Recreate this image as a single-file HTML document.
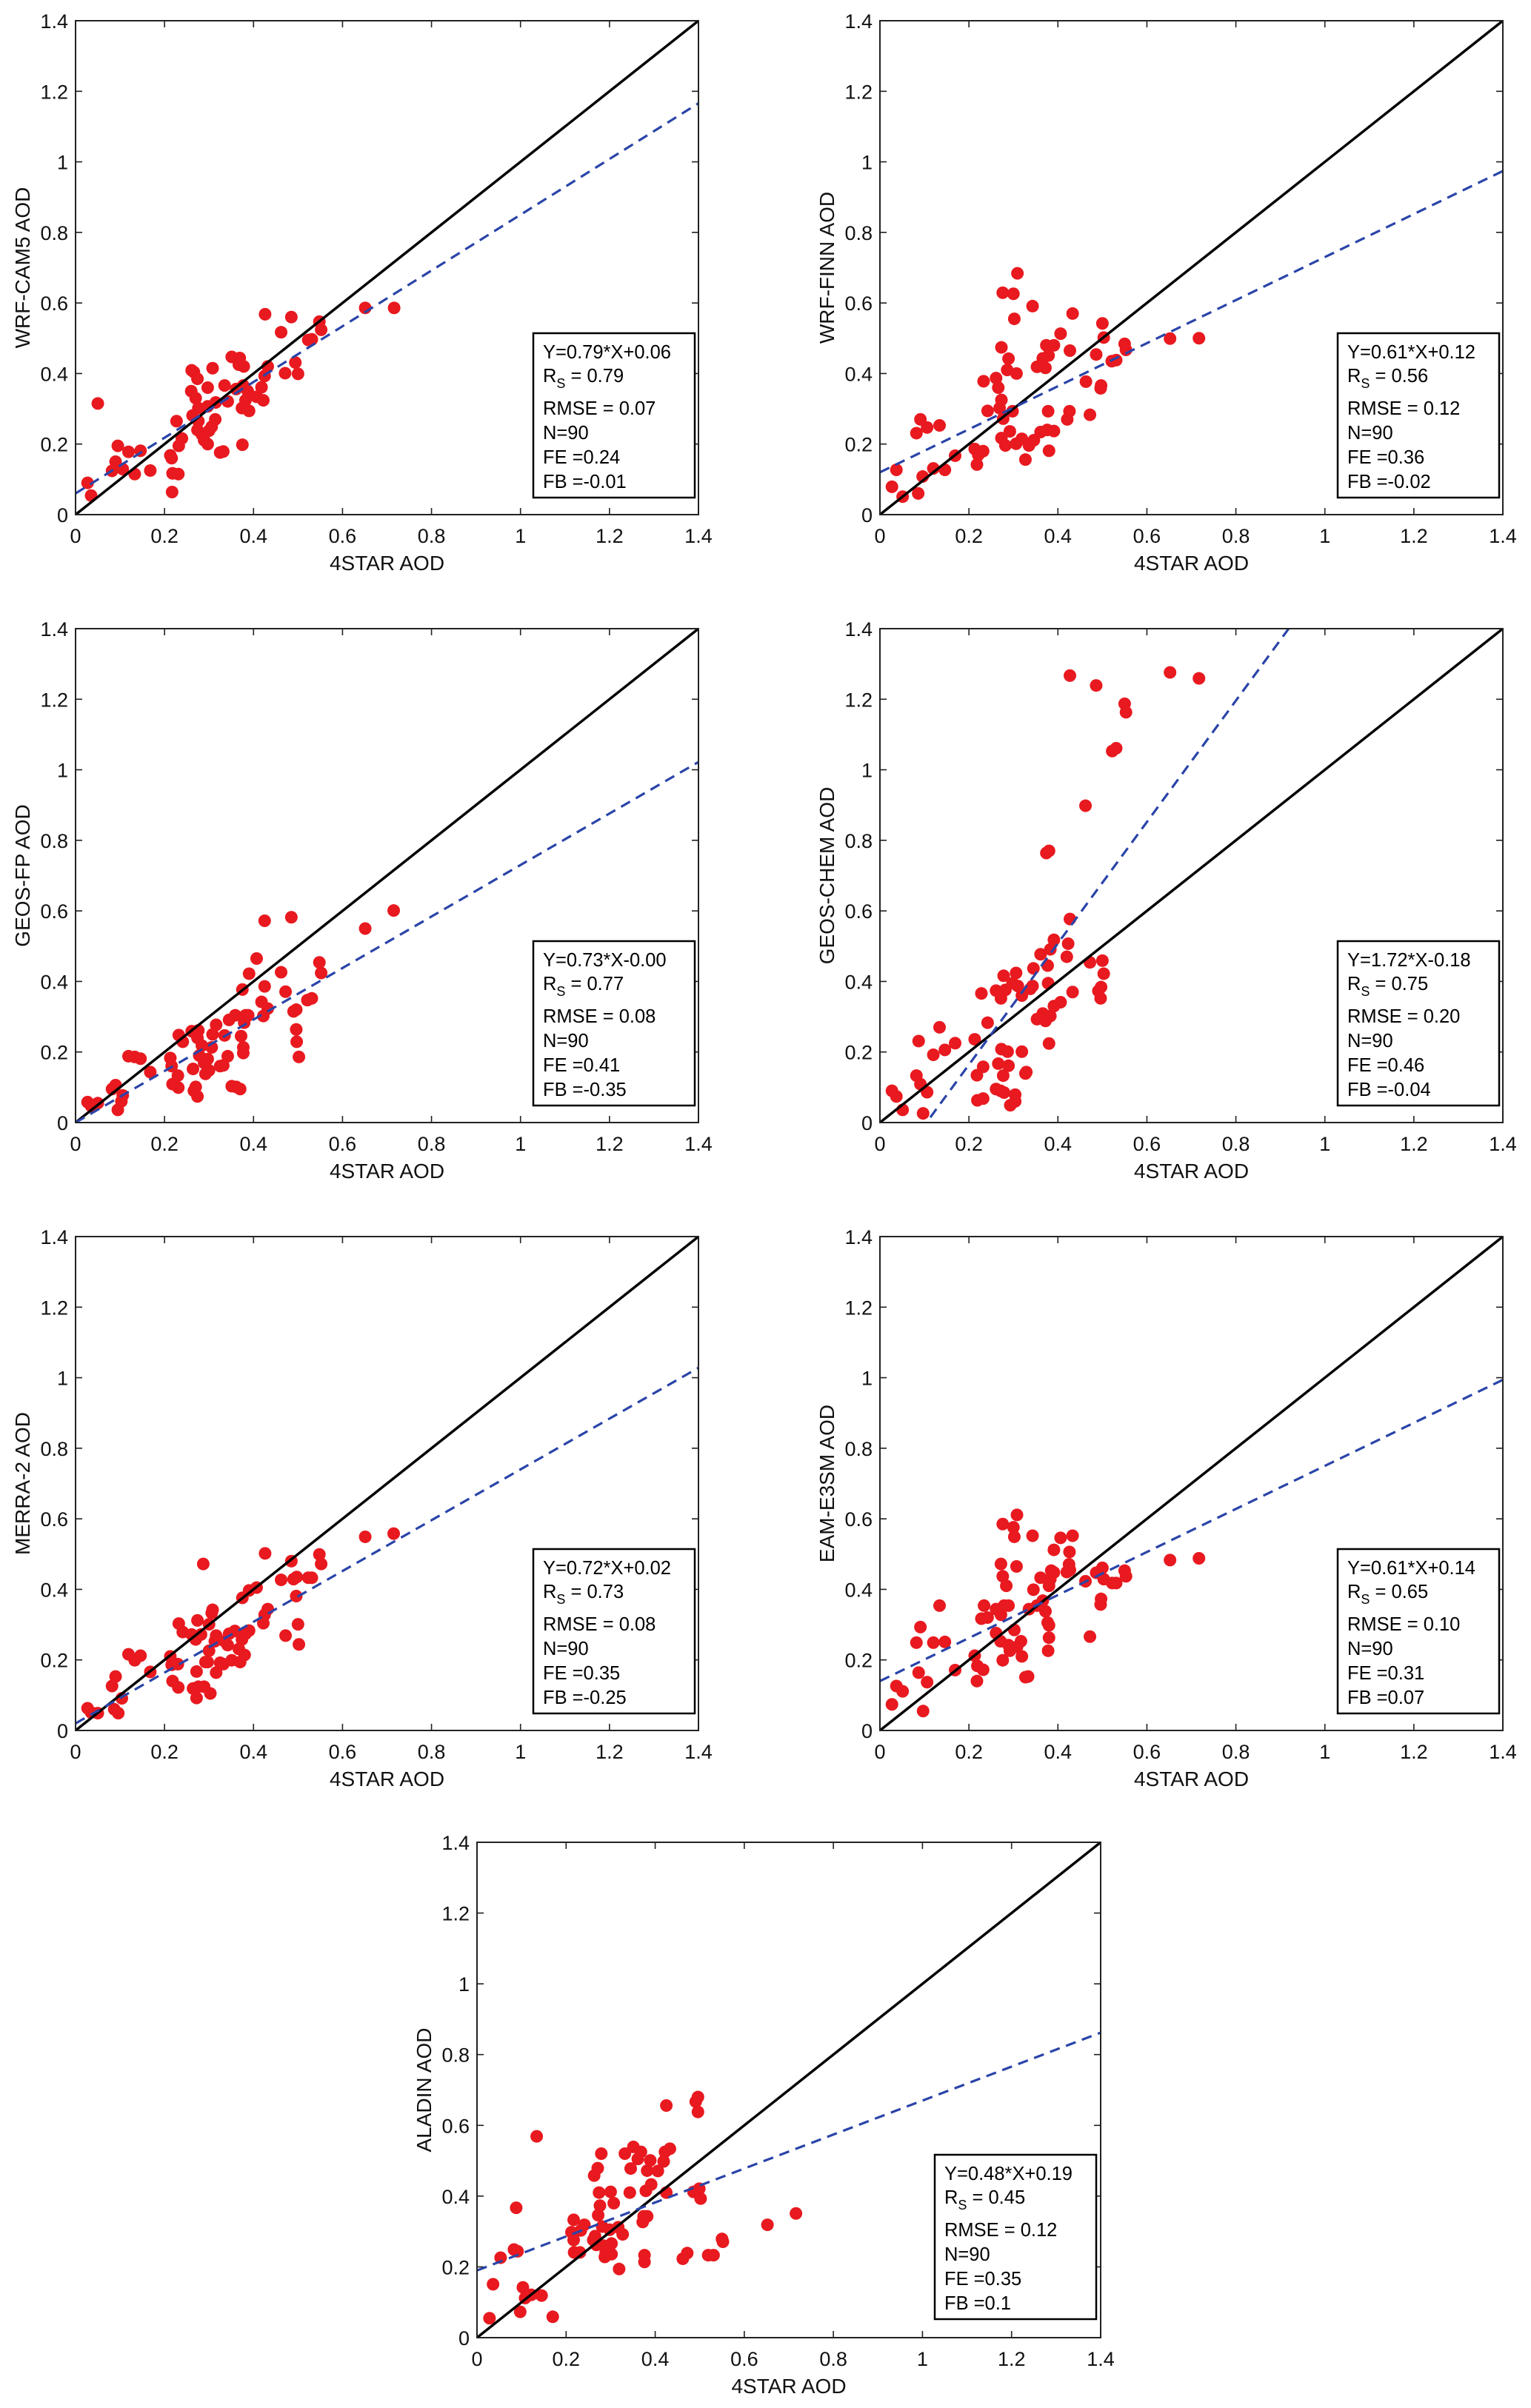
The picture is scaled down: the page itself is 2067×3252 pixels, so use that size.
<!DOCTYPE html>
<html><head><meta charset="utf-8"><style>
html,body{margin:0;padding:0;background:#fff;}
svg{display:block;font-family:"Liberation Sans",Arial,sans-serif;}
</style></head><body>
<svg id="fig" width="2067" height="3252" viewBox="0 0 2067 3252" xmlns="http://www.w3.org/2000/svg"></svg>
<script>
const xs1=[.027,.035,.05,.095,.09,.082,.106,.119,.133,.146,.168,.213,.216,.217,.218,.231,.227,.232,.239,.261,.266,.274,.26,.27,.276,.263,.276,.274,.284,.289,.297,.3,.306,.297,.297,.308,.315,.314,.325,.332,.335,.342,.351,.361,.369,.367,.378,.374,.382,.377,.387,.39,.375,.407,.418,.422,.425,.432,.426,.462,.471,.485,.494,.5,.523,.531,.548,.552,.651,.716];
const ys1=[.09,.054,.315,.195,.15,.124,.129,.178,.115,.181,.125,.168,.16,.064,.117,.115,.265,.195,.216,.409,.404,.385,.35,.33,.302,.281,.265,.24,.227,.211,.2,.238,.249,.36,.307,.415,.318,.27,.176,.179,.366,.321,.447,.356,.444,.425,.42,.302,.324,.366,.35,.294,.198,.334,.361,.324,.393,.42,.568,.517,.401,.56,.431,.399,.495,.497,.547,.524,.586,.586];
const xs2=[.027,.037,.051,.086,.082,.091,.106,.096,.12,.134,.146,.169,.213,.218,.221,.232,.233,.242,.261,.266,.273,.273,.269,.277,.276,.286,.289,.298,.3,.302,.309,.307,.273,.282,.292,.306,.319,.327,.335,.343,.346,.353,.361,.366,.372,.374,.379,.378,.376,.38,.391,.391,.406,.421,.426,.427,.433,.463,.472,.486,.496,.497,.5,.503,.521,.531,.55,.553,.652,.717];
const ys2=[.079,.127,.051,.06,.231,.27,.247,.108,.131,.253,.127,.167,.186,.142,.169,.18,.378,.294,.387,.36,.474,.325,.302,.272,.629,.41,.442,.293,.626,.555,.684,.4,.217,.196,.236,.201,.215,.156,.196,.591,.211,.419,.234,.443,.416,.48,.451,.293,.24,.181,.237,.48,.513,.27,.293,.465,.57,.377,.283,.454,.358,.366,.542,.502,.435,.438,.484,.467,.499,.5];
const xs3=[.027,.035,.05,.082,.09,.095,.103,.106,.119,.133,.146,.168,.213,.216,.218,.23,.231,.232,.241,.261,.264,.266,.27,.274,.276,.274,.278,.284,.289,.292,.297,.3,.306,.308,.316,.325,.332,.335,.342,.345,.351,.359,.361,.37,.372,.375,.377,.377,.379,.382,.39,.388,.407,.418,.422,.425,.425,.432,.462,.472,.485,.49,.496,.497,.502,.496,.521,.531,.548,.552,.651,.715];
const ys3=[.058,.047,.055,.095,.106,.036,.06,.077,.188,.186,.181,.143,.183,.16,.109,.133,.099,.248,.229,.259,.152,.09,.101,.074,.261,.24,.19,.218,.169,.138,.18,.148,.213,.25,.277,.16,.162,.247,.188,.291,.103,.304,.101,.095,.245,.377,.213,.197,.283,.304,.422,.304,.465,.342,.302,.572,.386,.323,.426,.371,.582,.315,.264,.229,.186,.32,.347,.352,.454,.424,.55,.601];
const xs4=[.027,.037,.051,.082,.087,.091,.097,.106,.12,.134,.146,.169,.213,.218,.219,.228,.232,.232,.242,.261,.261,.266,.271,.272,.273,.277,.278,.279,.282,.289,.287,.293,.298,.304,.304,.306,.31,.319,.319,.327,.329,.338,.343,.345,.353,.361,.366,.372,.374,.38,.377,.378,.38,.383,.383,.391,.391,.406,.42,.423,.427,.427,.433,.462,.472,.486,.491,.496,.497,.5,.503,.522,.531,.55,.553,.652,.717];
const ys4=[.09,.074,.036,.133,.231,.109,.026,.086,.192,.27,.206,.225,.236,.134,.063,.366,.068,.158,.283,.374,.095,.167,.09,.352,.208,.133,.416,.085,.376,.161,.201,.049,.395,.079,.06,.424,.387,.201,.36,.139,.143,.379,.387,.437,.293,.477,.309,.288,.764,.77,.445,.395,.224,.302,.491,.518,.33,.341,.47,.507,.577,1.267,.37,.898,.454,1.239,.373,.352,.384,.459,.422,1.053,1.061,1.187,1.163,1.276,1.259];
const xs5=[.027,.035,.05,.082,.09,.087,.096,.104,.119,.133,.146,.168,.213,.216,.218,.23,.231,.232,.241,.261,.264,.27,.274,.272,.272,.276,.282,.287,.289,.292,.297,.3,.3,.303,.306,.308,.313,.316,.316,.325,.332,.335,.342,.345,.351,.358,.367,.37,.374,.375,.38,.382,.39,.39,.407,.422,.425,.432,.426,.462,.472,.485,.49,.497,.496,.5,.502,.523,.531,.548,.552,.651,.715];
const ys5=[.063,.051,.049,.126,.153,.06,.049,.091,.216,.199,.212,.166,.21,.186,.14,.188,.122,.303,.279,.272,.119,.258,.312,.167,.092,.124,.272,.472,.124,.194,.194,.226,.301,.105,.333,.342,.253,.269,.164,.192,.188,.253,.242,.274,.199,.282,.231,.194,.258,.376,.214,.274,.283,.397,.405,.304,.328,.344,.502,.427,.269,.48,.429,.435,.381,.301,.244,.433,.433,.499,.472,.549,.558];
const xs6=[.027,.037,.051,.082,.087,.091,.097,.106,.12,.134,.146,.169,.213,.218,.219,.228,.232,.234,.242,.261,.261,.271,.272,.272,.276,.276,.276,.279,.284,.289,.289,.292,.3,.302,.302,.307,.308,.308,.317,.319,.327,.333,.335,.343,.345,.353,.361,.366,.372,.377,.378,.38,.38,.38,.383,.385,.391,.391,.406,.42,.425,.426,.427,.433,.462,.472,.486,.496,.497,.5,.503,.522,.531,.55,.553,.652,.717];
const ys6=[.074,.126,.111,.249,.164,.293,.055,.137,.249,.354,.251,.171,.212,.14,.183,.317,.172,.354,.32,.344,.276,.253,.472,.328,.585,.437,.199,.354,.41,.354,.242,.226,.576,.549,.285,.465,.611,.237,.253,.21,.151,.153,.344,.552,.399,.354,.433,.368,.338,.306,.226,.263,.298,.41,.429,.453,.512,.448,.546,.449,.471,.506,.455,.552,.423,.266,.447,.357,.373,.461,.429,.418,.418,.453,.437,.483,.488];
const xs7=[.028,.036,.053,.083,.088,.091,.097,.103,.108,.122,.134,.145,.17,.212,.217,.217,.218,.231,.233,.241,.261,.263,.265,.268,.271,.272,.274,.276,.279,.281,.284,.287,.289,.298,.3,.302,.302,.307,.317,.319,.327,.332,.343,.345,.351,.361,.368,.372,.374,.376,.376,.379,.382,.382,.389,.391,.406,.419,.422,.425,.425,.433,.462,.472,.486,.491,.496,.496,.499,.502,.519,.531,.55,.552,.652,.716];
const ys7=[.055,.151,.226,.249,.367,.244,.073,.142,.112,.121,.569,.119,.059,.298,.333,.276,.241,.241,.303,.319,.276,.458,.287,.262,.479,.346,.41,.373,.52,.314,.26,.228,.241,.305,.412,.266,.236,.38,.312,.194,.292,.52,.41,.478,.539,.505,.525,.327,.343,.233,.214,.415,.472,.343,.501,.433,.471,.498,.525,.41,.656,.534,.223,.239,.412,.667,.68,.638,.421,.393,.233,.233,.279,.271,.319,.351];
const xTicks=[0,0.2,0.4,0.6,0.8,1,1.2,1.4];
const xTickLabels=["0","0.2","0.4","0.6","0.8","1","1.2","1.4"];
const yTicks=[0,0.2,0.4,0.6,0.8,1,1.2,1.4];
const yTickLabels=["0","0.2","0.4","0.6","0.8","1","1.2","1.4"];
const slopes=[0.79,0.61,0.73,1.72,0.72,0.61,0.48];
const intercepts=[0.06,0.12,0.00,-0.18,0.02,0.14,0.19];
const yNames=["WRF-CAM5 AOD","WRF-FINN AOD","GEOS-FP AOD","GEOS-CHEM AOD","MERRA-2 AOD","EAM-E3SM AOD","ALADIN AOD"];
const eqText=["Y=0.79*X+0.06","Y=0.61*X+0.12","Y=0.73*X-0.00","Y=1.72*X-0.18","Y=0.72*X+0.02","Y=0.61*X+0.14","Y=0.48*X+0.19"];
const rsText=["0.79","0.56","0.77","0.75","0.73","0.65","0.45"];
const rmseText=["0.07","0.12","0.08","0.20","0.08","0.10","0.12"];
const nText=["90","90","90","90","90","90","90"];
const feText=["0.24","0.36","0.41","0.46","0.35","0.31","0.35"];
const fbText=["-0.01","-0.02","-0.35","-0.04","-0.25","0.07","0.1"];
const allX=[xs1,xs2,xs3,xs4,xs5,xs6,xs7];
const allY=[ys1,ys2,ys3,ys4,ys5,ys6,ys7];

const NS="http://www.w3.org/2000/svg";
const svg=document.getElementById('fig');
function mk(tag,attrs,parent){const e=document.createElementNS(NS,tag);for(const k in attrs)e.setAttribute(k,attrs[k]);(parent||svg).appendChild(e);return e;}
const boxes=[[102,943,28,695],[1188,2029,28,695],[102,943,849,1516],[1188,2029,849,1516],[102,943,1670,2337],[1188,2029,1670,2337],[644,1486,2488,3157]];
const keys=["wrf-cam5","wrf-finn","geos-fp","geos-chem","merra-2","eam-e3sm","aladin"];
boxes.forEach((b,i)=>{
  const [L,R,T,B]=b;
  const sx=v=>L+(v/1.4)*(R-L);
  const sy=v=>B-(v/1.4)*(B-T);
  const g=mk('g',{});
  
  
  const clipId='clip'+i;
  const cp=mk('clipPath',{id:clipId},g);mk('rect',{x:L,y:T,width:R-L,height:B-T},cp);
  xTicks.forEach((t,k)=>{
    const x=sx(t);
    const tk=mk('path',{d:`M${x},${B}v-9M${x},${T}v9`,stroke:'#222','stroke-width':1.6},g);
    
    
    const tl=mk('text',{x:x,y:B+38,'font-size':27,'text-anchor':'middle',fill:'#111'},g);
    tl.textContent=xTickLabels[k];
    
    
  });
  yTicks.forEach((t,k)=>{
    const y=sy(t);
    const tk=mk('path',{d:`M${L},${y}h9M${R},${y}h-9`,stroke:'#222','stroke-width':1.6},g);
    
    
    const tl=mk('text',{x:L-10,y:y+10,'font-size':27,'text-anchor':'end',fill:'#111'},g);
    tl.textContent=yTickLabels[k];
    
    
  });
  const inner=mk('g',{'clip-path':`url(#${clipId})`},g);
  allX[i].forEach((xv,k)=>{
    const c=mk('circle',{cx:sx(xv),cy:sy(allY[i][k]),r:8.5,fill:'#e8191f'},inner);
    
    
  });
  const one=mk('line',{x1:sx(0),y1:sy(0),x2:sx(1.4),y2:sy(1.4),stroke:'#000','stroke-width':3.5},inner);
  
  
  const fit=mk('line',{x1:sx(0),y1:sy(intercepts[i]),x2:sx(1.4),y2:sy(intercepts[i]+slopes[i]*1.4),stroke:'#2a44a8','stroke-width':3.2,'stroke-dasharray':'14 9'},inner);
  
  
  const fr=mk('rect',{x:L,y:T,width:R-L,height:B-T,fill:'none',stroke:'#222','stroke-width':2},g);
  
  
  const xl=mk('text',{x:(L+R)/2,y:B+75,'font-size':28,'text-anchor':'middle',fill:'#111'},g);
  xl.textContent='4STAR AOD';
  
  
  const cy=(T+B)/2;
  const yl=mk('text',{x:L-62,y:cy,'font-size':28,'text-anchor':'middle',fill:'#111',transform:`rotate(-90 ${L-62} ${cy})`},g);
  yl.textContent=yNames[i];
  
  
  const bx=L+618,by=T+422;
  const sb=mk('g',{},g);
  
  
  mk('rect',{x:bx,y:by,width:218,height:222,fill:'#fff',stroke:'#000','stroke-width':2.5},sb);
  const tx=bx+13;
  const lines=[[eqText[i],34],[null,66],['RMSE = '+rmseText[i],110],['N='+nText[i],143],['FE ='+feText[i],176],['FB ='+fbText[i],209]];
  lines.forEach(([s,dy])=>{
    const t=mk('text',{x:tx,y:by+dy,'font-size':25.5,fill:'#000'},sb);
    if(s===null){
      t.appendChild(document.createTextNode('R'));
      const sub=mk('tspan',{'font-size':18,dy:8},t);sub.textContent='S';
      const rest=mk('tspan',{dy:-8},t);rest.textContent=' = '+rsText[i];
    } else t.textContent=s;
    
    
  });
});
</script>
</body></html>
